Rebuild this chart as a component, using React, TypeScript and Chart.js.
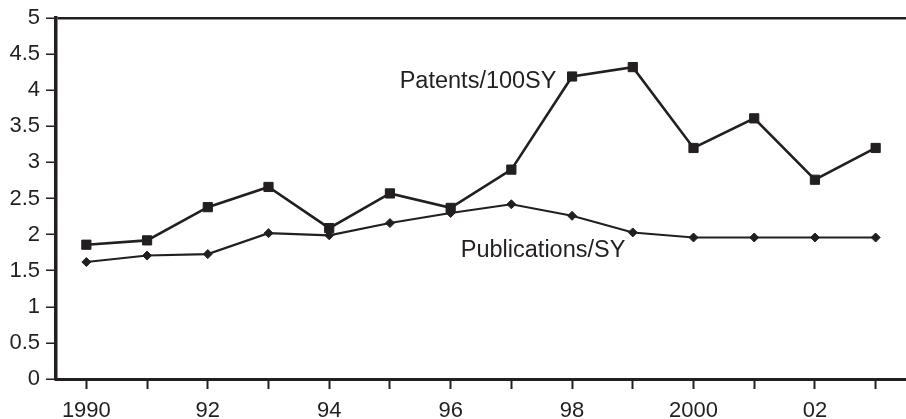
import { useEffect, useRef } from 'react';
import { Chart, registerables } from 'chart.js';

Chart.register(...registerables);

const years = ['1990', '1991', '1992', '1993', '1994', '1995', '1996', '1997', '1998', '1999', '2000', '2001', '2002', '2003'];
const xTickLabels = ['1990', '', '92', '', '94', '', '96', '', '98', '', '2000', '', '02', ''];
const patents = [1.86, 1.92, 2.38, 2.66, 2.09, 2.57, 2.37, 2.9, 4.19, 4.32, 3.2, 3.61, 2.76, 3.2];
const publications = [1.62, 1.71, 1.73, 2.02, 1.99, 2.16, 2.3, 2.42, 2.26, 2.03, 1.96, 1.96, 1.96, 1.96];
const seriesLabels = ['Patents/100SY', 'Publications/SY'];

const INK = '#231f20';
const FONT = "'Liberation Sans', Arial, Helvetica, sans-serif";

const seriesTextPlugin = {
  id: 'seriesText',
  afterDatasetsDraw(chart: any) {
    const { ctx, scales } = chart;
    const x = scales.x;
    const y = scales.y;
    ctx.save();
    ctx.fillStyle = INK;
    ctx.font = `23.5px ${FONT}`;
    ctx.textBaseline = 'middle';
    ctx.textAlign = 'right';
    ctx.fillText(seriesLabels[0], x.getPixelForValue(7.743), y.getPixelForValue(4.12));
    ctx.textAlign = 'left';
    ctx.fillText(seriesLabels[1], x.getPixelForValue(6.167), y.getPixelForValue(1.78));
    ctx.restore();
  },
};

export default function App() {
  const ref = useRef<HTMLCanvasElement | null>(null);

  useEffect(() => {
    document.body.style.margin = '0';
    if (!ref.current) return;
    const chart = new Chart(ref.current, {
      type: 'line',
      data: {
        labels: years,
        datasets: [
          {
            label: seriesLabels[0],
            data: patents,
            borderColor: INK,
            backgroundColor: INK,
            borderWidth: 2.6,
            pointStyle: 'rect',
            pointRadius: 6.5,
            pointBorderWidth: 1,
            pointBorderColor: INK,
            pointBackgroundColor: INK,
            tension: 0,
          },
          {
            label: seriesLabels[1],
            data: publications,
            borderColor: INK,
            backgroundColor: INK,
            borderWidth: 2.1,
            pointStyle: 'rectRot',
            pointRadius: 4.5,
            pointBorderWidth: 1,
            pointBorderColor: INK,
            pointBackgroundColor: INK,
            tension: 0,
          },
        ],
      },
      options: {
        animation: false,
        responsive: true,
        maintainAspectRatio: false,
        layout: { autoPadding: false, padding: { top: 18, right: -2.6, left: 0, bottom: 0 } },
        plugins: {
          legend: { display: false },
          tooltip: { enabled: false },
        },
        scales: {
          x: {
            offset: true,
            grid: {
              offset: false,
              drawOnChartArea: false,
              drawTicks: true,
              tickLength: 10,
              tickColor: INK,
              tickWidth: 2,
            },
            border: { display: true, color: INK, width: 3 },
            ticks: {
              autoSkip: false,
              maxRotation: 0,
              minRotation: 0,
              padding: 9,
              color: INK,
              font: { family: FONT, size: 22 },
              callback: (_v: any, i: number) => xTickLabels[i],
            },
            afterFit: (s: any) => {
              s.height = 40;
              s.paddingLeft = 0;
              s.paddingRight = 0;
            },
          },
          y: {
            min: 0,
            max: 5,
            ticks: {
              stepSize: 0.5,
              padding: 6,
              color: INK,
              font: { family: FONT, size: 22 },
              callback: (v: any) => String(v),
            },
            grid: {
              drawOnChartArea: true,
              color: (c: any) => (c.tick && c.tick.value === 5 ? INK : 'rgba(0,0,0,0)'),
              lineWidth: 2.5,
              tickLength: 10,
              tickColor: INK,
              tickWidth: 1.5,
            },
            border: { display: true, color: INK, width: 3.5 },
            afterFit: (s: any) => {
              s.width = 56;
              s.paddingTop = 0;
              s.paddingBottom = 0;
            },
          },
        },
      },
      plugins: [seriesTextPlugin],
    });
    return () => chart.destroy();
  }, []);

  return (
    <div style={{ width: 906, height: 419, position: 'relative' }}>
      <canvas ref={ref} />
    </div>
  );
}
